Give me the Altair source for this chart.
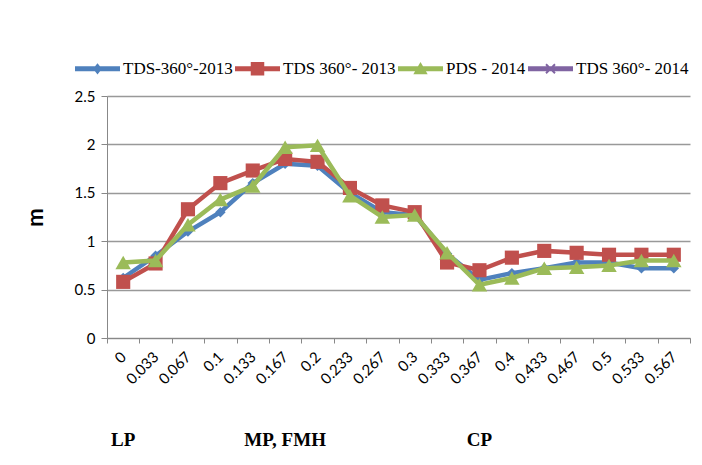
import altair as alt
import pandas as pd

categories = ["0", "0.033", "0.067", "0.1", "0.133", "0.167", "0.2", "0.233", "0.267",
              "0.3", "0.333", "0.367", "0.4", "0.433", "0.467", "0.5", "0.533", "0.567"]

series_names = ["TDS-360°-2013", "TDS 360°- 2013", "PDS - 2014", "TDS 360°- 2014"]
series_colors = ["#4F81BD", "#C0504D", "#9BBB59", "#8064A2"]

tds_2013_a = [0.62, 0.85, 1.10, 1.30, 1.60, 1.80, 1.78, 1.50, 1.30, 1.27, 0.87, 0.60,
              0.67, 0.72, 0.78, 0.78, 0.72, 0.72]
tds_2013_b = [0.58, 0.77, 1.33, 1.60, 1.73, 1.85, 1.82, 1.55, 1.37, 1.30, 0.78, 0.70,
              0.83, 0.90, 0.88, 0.86, 0.86, 0.86]
pds_2014 = [0.78, 0.80, 1.17, 1.43, 1.57, 1.97, 1.99, 1.47, 1.25, 1.27, 0.88, 0.55,
            0.62, 0.72, 0.73, 0.75, 0.80, 0.80]

zone_labels = ["LP", "MP, FMH", "CP"]
zone_positions = ["0", "0.167", "0.367"]

rows = []
for name, vals in zip(series_names[:3], [tds_2013_a, tds_2013_b, pds_2014]):
    for c, v in zip(categories, vals):
        rows.append({"x": c, "v": v, "series": name})
df = pd.DataFrame(rows)
zones = pd.DataFrame({"x": zone_positions, "label": zone_labels})

W, H = 583, 242

xenc = alt.X("x:N", sort=categories,
             scale=alt.Scale(type="band", domain=categories, paddingInner=0, paddingOuter=0),
             axis=alt.Axis(title=None, labelAngle=-45, labelAlign="right", labelBaseline="middle",
                           labelFont="Lato", labelFontSize=15, labelColor="#000",
                           tickBand="extent", tickSize=5, tickColor="#888", domainColor="#888",
                           labelPadding=11, grid=False))
yenc = alt.Y("v:Q", scale=alt.Scale(domain=[0, 2.5]),
             axis=alt.Axis(title="m", values=[0, 0.5, 1, 1.5, 2, 2.5], format="~g",
                           labelFont="Lato", labelFontSize=15, labelColor="#000", tickSize=6,
                           tickColor="#888", domainColor="#888", gridColor="#999", gridWidth=1.5,
                           titleFont="Lato", titleFontSize=22, titleFontWeight="bold",
                           titleColor="#000", titlePadding=27, titleAngle=270,
                           labelPadding=6))
color = alt.Color("series:N", scale=alt.Scale(domain=series_names, range=series_colors))

shape_paths = [
    "M-1,-0.11H1V0.11H-1Z M0,-0.25L0.2,0L0,0.25L-0.2,0Z",
    "M-1,-0.11H1V0.11H-1Z M-0.3,-0.3H0.3V0.3H-0.3Z",
    "M-1,-0.11H1V0.11H-1Z M0,-0.3L0.32,0.24H-0.32Z",
    "M-1,-0.11H1V0.11H-1Z M-0.17,-0.23L0.23,0.17L0.17,0.23L-0.23,-0.17Z M0.17,-0.23L0.23,-0.17L-0.17,0.23L-0.23,0.17Z",
]

base = alt.Chart(df)
marker_shape = {"TDS-360°-2013": ("diamond", 110), "TDS 360°- 2013": ("square", 200),
                "PDS - 2014": ("triangle-up", 240)}

layers = []
for name in series_names[:3]:
    sub = base.transform_filter(alt.datum.series == name)
    layers.append(sub.mark_line(strokeWidth=4.5).encode(x=xenc, y=yenc, color=color))
    shp, sz = marker_shape[name]
    layers.append(sub.mark_point(shape=shp, size=sz, filled=True, opacity=1, strokeWidth=0)
                  .encode(x=xenc, y=yenc, color=color))

legend_layer = base.transform_filter("false").mark_point(filled=True, opacity=1, strokeWidth=0).encode(
    x=xenc, y=yenc, color=color,
    shape=alt.Shape("series:N", scale=alt.Scale(domain=series_names, range=shape_paths),
                    legend=alt.Legend(title=None, orient="none", legendX=-32, legendY=-50,
                                      direction="horizontal", symbolSize=2025,
                                      labelFont="Liberation Serif", labelFontSize=17,
                                      labelColor="#000", labelOffset=3, columnPadding=2,
                                      symbolStrokeWidth=0, labelLimit=300))
)

zone_layer = alt.Chart(zones).mark_text(font="Liberation Serif", fontSize=19, fontWeight="bold",
                                        color="#000", dy=102, baseline="middle").encode(
    x=alt.X("x:N", sort=categories), y=alt.value(H), text="label:N")

chart = alt.layer(*layers, legend_layer, zone_layer).properties(
    width=W, height=H, padding={"left": 99, "top": 88, "right": 4, "bottom": 119},
    autosize=alt.AutoSizeParams(type="none"), background="white"
).configure_view(stroke=None)

chart.save("out.html", embed_options={"renderer": "svg", "actions": False})
